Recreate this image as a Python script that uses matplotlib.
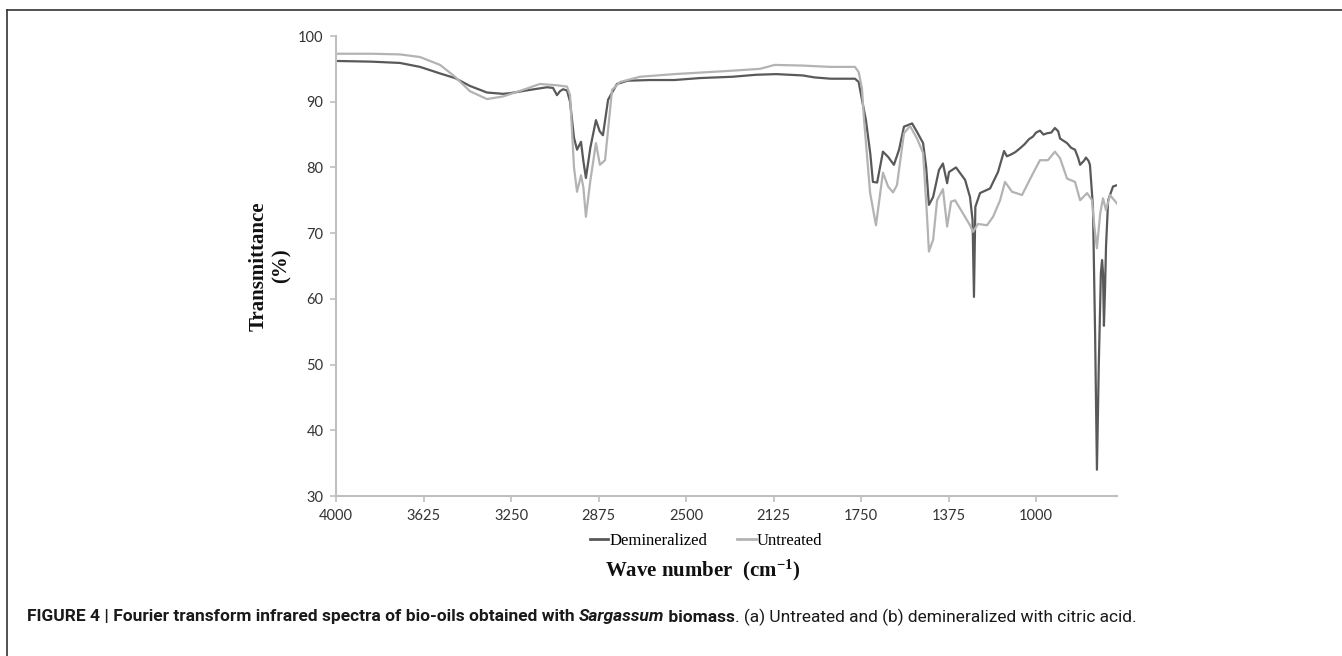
import matplotlib
matplotlib.use("Agg")
import matplotlib.pyplot as plt
from matplotlib.lines import Line2D

# ---------------- data ----------------
dem_wn = [4000, 3850, 3726, 3640, 3554, 3490, 3426, 3353, 3284, 3254, 3169, 3096, 3070, 3053,
          3040, 3027, 3010, 2997, 2980, 2967, 2950, 2940, 2929, 2910, 2886, 2870, 2856, 2834,
          2796, 2750, 2654, 2550, 2440, 2300, 2200, 2114, 2000, 1950, 1880, 1776, 1760, 1746,
          1729, 1710, 1699, 1681, 1656, 1634, 1609, 1587, 1566, 1531, 1510, 1484, 1471, 1459,
          1441, 1416, 1399, 1381, 1373, 1343, 1304, 1283, 1272, 1266, 1260, 1240, 1197, 1163,
          1137, 1125, 1111, 1090, 1069, 1050, 1030, 1013, 1000, 983, 968, 953, 935, 919, 905,
          897, 880, 867, 850, 833, 820, 811, 795, 786, 775, 769, 756, 747, 739, 731, 722, 717,
          713, 709, 704, 700, 691, 670, 653]
dem_t = [96.2, 96.1, 95.9, 95.3, 94.3, 93.6, 92.4, 91.4, 91.2, 91.3, 91.8, 92.2, 92.1, 91.0,
         91.6, 91.9, 91.7, 90.0, 84.5, 82.7, 83.9, 81.0, 78.4, 83.0, 87.2, 85.5, 84.9, 90.3,
         92.7, 93.2, 93.3, 93.3, 93.6, 93.8, 94.1, 94.2, 94.0, 93.7, 93.5, 93.5, 93.0, 90.3,
         87.2, 82.0, 77.8, 77.7, 82.4, 81.6, 80.4, 82.7, 86.2, 86.7, 85.4, 83.7, 80.1, 74.3,
         75.5, 79.6, 80.6, 77.6, 79.3, 80.0, 78.1, 75.5, 72.0, 60.3, 74.0, 76.1, 76.8, 79.3,
         82.5, 81.7, 81.9, 82.3, 82.9, 83.5, 84.3, 84.7, 85.3, 85.6, 85.0, 85.2, 85.3, 86.0, 85.5,
         84.4, 84.0, 83.7, 83.0, 82.7, 81.5, 80.4, 81.0, 81.5, 81.0, 80.4, 74.0, 55.0, 34.0, 50.0,
         64.0, 65.9, 64.0, 55.9, 62.0, 68.0, 75.0, 77.1, 77.3]

unt_wn = [4000, 3850, 3726, 3640, 3554, 3490, 3426, 3353, 3284, 3199, 3126, 3053, 3010, 2997,
          2980, 2967, 2950, 2940, 2929, 2910, 2886, 2869, 2847, 2817, 2783, 2697, 2550, 2311,
          2183, 2120, 2000, 1883, 1776, 1760, 1746, 1737, 1711, 1686, 1656, 1634, 1613, 1596,
          1566, 1540, 1510, 1484, 1467, 1459, 1441, 1424, 1399, 1381, 1364, 1347, 1313, 1283,
          1270, 1249, 1210, 1184, 1154, 1133, 1103, 1060, 1013, 983, 949, 919, 897, 867, 833,
          811, 781, 760, 750, 739, 725, 713, 700, 683, 653]
unt_t = [97.3, 97.3, 97.2, 96.8, 95.6, 93.8, 91.6, 90.4, 90.8, 91.8, 92.7, 92.5, 92.3, 91.0,
         80.0, 76.3, 78.8, 77.0, 72.5, 78.0, 83.7, 80.4, 81.1, 91.8, 93.0, 93.8, 94.2, 94.7,
         95.0, 95.6, 95.5, 95.3, 95.3, 94.5, 92.0, 87.2, 76.1, 71.2, 79.2, 77.1, 76.2, 77.3,
         85.2, 86.3, 84.4, 82.2, 72.5, 67.2, 69.0, 75.0, 76.7, 71.0, 74.8, 75.0, 73.0, 71.2,
         70.2, 71.4, 71.2, 72.5, 75.0, 77.8, 76.3, 75.8, 79.1, 81.1, 81.1, 82.4, 81.4, 78.3, 77.8,
         75.0, 76.1, 75.0, 71.0, 67.7, 73.0, 75.3, 73.5, 75.8, 74.5]

x_ticks = [4000, 3625, 3250, 2875, 2500, 2125, 1750, 1375, 1000]
y_ticks = [30, 40, 50, 60, 70, 80, 90, 100]
series_names = ["Demineralized", "Untreated"]

# ---------------- figure ----------------
W, H = 1342, 656
fig = plt.figure(figsize=(W / 100, H / 100), dpi=100)
fig.patch.set_facecolor("white")

ax = fig.add_axes([336 / W, 1 - 496 / H, (1117 - 336) / W, (496 - 36) / H])
dark = "#595959"
light = "#b3b3b3"
ax.plot(dem_wn, dem_t, color=dark, lw=1.6, solid_joinstyle="round")
ax.plot(unt_wn, unt_t, color=light, lw=1.6, solid_joinstyle="round")

ax.set_xlim(4000, 653)
ax.set_ylim(30, 100)
ax.set_xticks(x_ticks)
ax.set_xticklabels([str(v) for v in x_ticks])
ax.set_yticks(y_ticks)
for s in ["top", "right"]:
    ax.spines[s].set_visible(False)
for s in ["left", "bottom"]:
    ax.spines[s].set_color("#bfbfbf")
    ax.spines[s].set_linewidth(1.5)
ax.tick_params(axis="both", colors="#bfbfbf", length=4, width=1.2, pad=5,
               labelcolor="#333333", labelsize=10.5)
for lab in ax.get_xticklabels() + ax.get_yticklabels():
    lab.set_family("Lato")

# legend
handles = [Line2D([], [], color=dark, lw=2), Line2D([], [], color=light, lw=2)]
fig.legend(handles, series_names, loc="center", bbox_to_anchor=(706 / W, 1 - 541 / H),
           ncol=2, frameon=False, handlelength=1.1, handletextpad=0.05, columnspacing=1.8,
           prop={"family": "Liberation Serif", "size": 12})

# axis titles
plt.rcParams["mathtext.fontset"] = "custom"
plt.rcParams["mathtext.rm"] = "Liberation Serif:bold"
plt.rcParams["mathtext.it"] = "Liberation Serif:bold"
plt.rcParams["mathtext.bf"] = "Liberation Serif:bold"
fig.text(703 / W, 1 - 570 / H, r"Wave number  (cm$^{\mathrm{-1}}$)", ha="center", va="center",
         family="Liberation Serif", weight="bold", size=15, color="#111111")
fig.text(270 / W, 1 - 266 / H, "Transmittance\n(%)", ha="center", va="center", rotation=90,
         multialignment="center", family="Liberation Serif", weight="bold", size=15,
         color="#111111", linespacing=1.25)

# frame of the figure panel
fig.add_artist(Line2D([7 / W, 7 / W], [1 - 10 / H, 0], color="#333333", lw=1.2))
fig.add_artist(Line2D([7 / W, 1], [1 - 10 / H, 1 - 10 / H], color="#333333", lw=1.2))

# caption
pieces = [
    ("FIGURE 4 | Fourier transform infrared spectra of bio-oils obtained with ", "bold", "normal"),
    ("Sargassum", "bold", "italic"),
    (" biomass", "bold", "normal"),
    (". (a) Untreated and (b) demineralized with citric acid.", "normal", "normal"),
]
fig.canvas.draw()
renderer = fig.canvas.get_renderer()
base = 12.0
tmp = []
total = 0.0
for txt, wgt, sty in pieces:
    t = fig.text(0, 0, txt, family="Roboto", weight=wgt, style=sty, size=base)
    total += t.get_window_extent(renderer).width
    tmp.append(t)
for t in tmp:
    t.remove()
size = base * (1133 - 27) / total
x = 27.0
y = 1 - 617 / H
for txt, wgt, sty in pieces:
    t = fig.text(x / W, y, txt, family="Roboto", weight=wgt, style=sty, size=size,
                 va="center", ha="left", color="#1a1a1a")
    x += t.get_window_extent(renderer).width

fig.savefig("out.png", dpi=100, facecolor="white")
